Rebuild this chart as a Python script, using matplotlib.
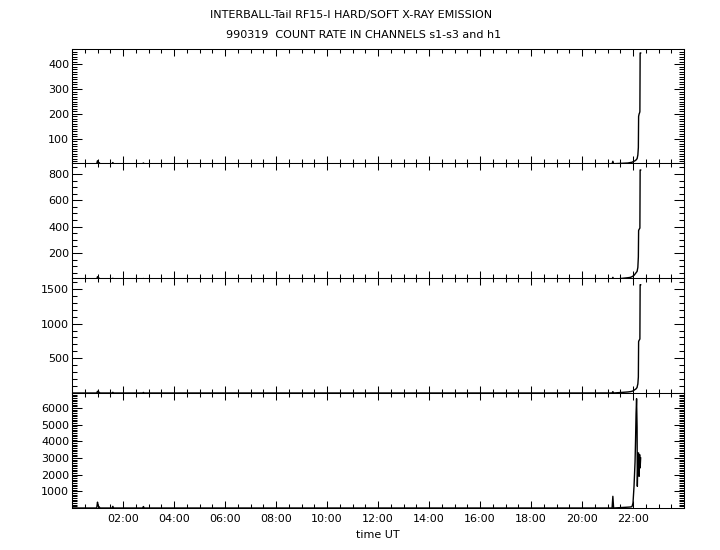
import matplotlib
matplotlib.use("Agg")
import matplotlib.pyplot as plt
from matplotlib.ticker import MultipleLocator

# time in hours UT (990319)
time_h = [0.00, 0.97, 1.00, 1.03, 1.07, 1.10, 1.57, 1.60, 1.63, 2.77, 2.80, 2.83,
          21.18, 21.21, 21.24,
          21.80, 21.90, 21.96, 22.00, 22.04, 22.08, 22.10, 22.12, 22.14, 22.16,
          22.17, 22.19, 22.21, 22.22, 22.24, 22.26, 22.27, 22.28, 22.30]

# count rates per channel
s1 = [0, 0, 12, 6, 4, 0, 0, 5, 0, 0, 3, 0,
      0, 10, 0,
      3, 5, 6, 8, 10, 12, 14, 15, 18, 20,
      25, 35, 65, 190, 200, 205, 210, 445, 445]
s2 = [0, 0, 20, 12, 8, 0, 0, 8, 0, 0, 6, 0,
      0, 15, 0,
      12, 15, 20, 25, 30, 40, 45, 50, 55, 60,
      70, 90, 170, 370, 380, 385, 390, 830, 830]
s3 = [0, 0, 25, 15, 10, 0, 0, 10, 0, 0, 8, 0,
      0, 20, 0,
      15, 20, 25, 30, 40, 50, 55, 60, 70, 80,
      100, 130, 230, 740, 760, 770, 780, 1560, 1560]
h1 = [0, 0, 350, 120, 60, 0, 0, 100, 0, 0, 90, 0,
      0, 700, 0,
      50, 60, 80, 300, 1300, 2750, 4050, 5650, 6550, 4850,
      1300, 2750, 3300, 3300, 1900, 3200, 2800, 2400, 3000]

channels = [s1, s2, s3, h1]
y_limits = [(3, 461), (10, 883), (0, 1657), (0, 6890)]
y_major = [[100, 200, 300, 400], [200, 400, 600, 800],
           [500, 1000, 1500], [1000, 2000, 3000, 4000, 5000, 6000]]
y_minor = [10, 50, 100, 100]

x_ticks = list(range(0, 25, 2))
x_labels = ["" if h in (0, 24) else f"{h:02d}:00" for h in x_ticks]

fig = plt.figure(figsize=(7.2, 5.5), dpi=100)

left, width = 72 / 720, 612 / 720
tops = [49, 163, 278, 393, 508]

for i, vals in enumerate(channels):
    bottom = 1 - tops[i + 1] / 550
    height = (tops[i + 1] - tops[i]) / 550
    ax = fig.add_axes([left, bottom, width, height])
    ax.plot(time_h, vals, color="black", lw=1.0)
    ax.set_xlim(0, 24)
    ax.set_ylim(*y_limits[i])
    ax.set_yticks(y_major[i])
    ax.yaxis.set_minor_locator(MultipleLocator(y_minor[i]))
    ax.set_xticks(x_ticks)
    ax.xaxis.set_minor_locator(MultipleLocator(0.5))
    ax.tick_params(which="both", direction="in", top=True, right=True,
                   labelsize=8, width=0.75)
    ax.tick_params(axis="x", which="major", length=5, pad=4)
    ax.tick_params(axis="x", which="minor", length=3)
    ax.tick_params(axis="y", which="major", length=7, pad=2)
    ax.tick_params(axis="y", which="minor", length=3.5)
    for sp in ax.spines.values():
        sp.set_linewidth(0.75)
    if i < 3:
        ax.set_xticklabels([])
    else:
        ax.set_xticklabels(x_labels)
        ax.set_xlabel("time UT", fontsize=8, labelpad=5)

fig.text(351 / 720, 1 - 15 / 550, "INTERBALL-Tail RF15-I HARD/SOFT X-RAY EMISSION",
         ha="center", va="center", fontsize=8)
fig.text(364 / 720, 1 - 35 / 550, "990319  COUNT RATE IN CHANNELS s1-s3 and h1",
         ha="center", va="center", fontsize=8)

fig.savefig("out.png", dpi=100)
